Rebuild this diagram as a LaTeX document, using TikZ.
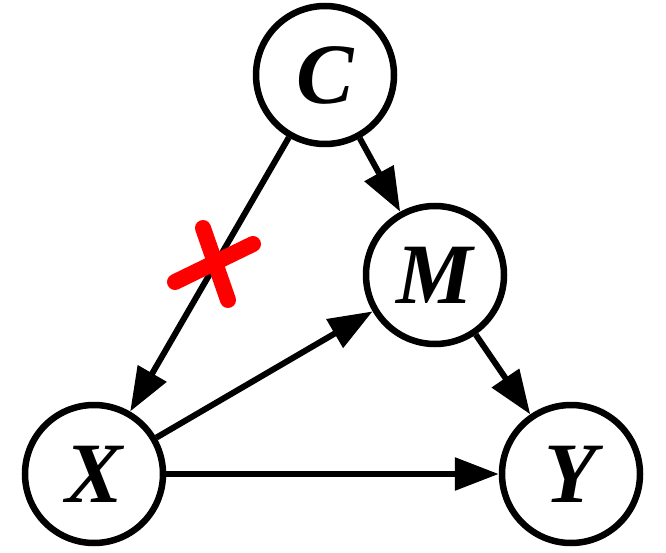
\documentclass[tikz,border=0pt]{standalone}
\usepackage{fontspec}
\setmainfont{Liberation Serif}
\usetikzlibrary{arrows.meta}
\tikzset{
  var/.style={circle, draw=black, line width=6.5pt, minimum size=138pt, inner sep=0pt,
    font=\fontsize{86}{86}\selectfont\bfseries\itshape},
  link/.style={line width=6pt, -{Triangle[length=44pt,width=32pt]}},
  cross/.style={draw=red, line width=16pt, line cap=round}
}
\begin{document}
\begin{tikzpicture}[x=1pt,y=-1pt]
\useasboundingbox (0,0) rectangle (666,553);
\node[var] (C) at (325,75) {C};
\node[var] (M) at (435,275) {M};
\node[var] (X) at (94,474) {X};
\node[var] (Y) at (571,474) {Y};
\draw[link] (C) -- (X);
\draw[link] (C) -- (M);
\draw[link] (M) -- (Y);
\draw[link] (X) -- (M);
\draw[link] (X) -- (Y);
\coordinate (a1) at (203,228);
\coordinate (a2) at (228,300);
\coordinate (b1) at (175,282);
\coordinate (b2) at (253,244);
\draw[cross] (a1) -- (a2);
\draw[cross] (b1) -- (b2);
\end{tikzpicture}
\end{document}
